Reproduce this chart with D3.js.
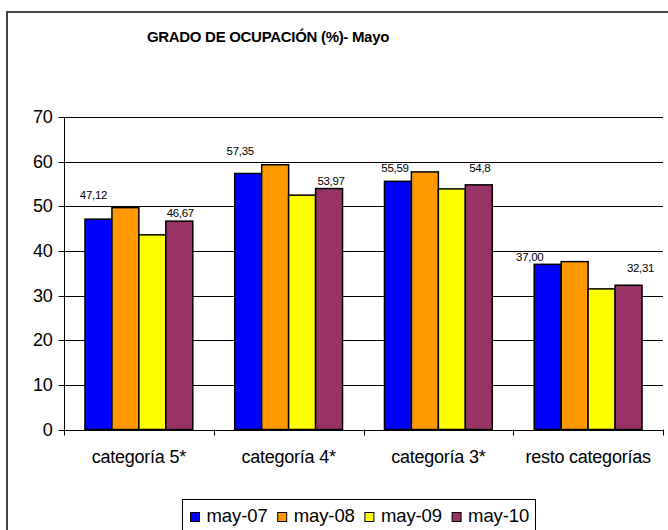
<!DOCTYPE html>
<html><head><meta charset="utf-8">
<script src="https://cdn.jsdelivr.net/npm/d3@7/dist/d3.min.js"></script>
<style>body{margin:0;background:#fff}svg{display:block;font-family:"Liberation Sans",Arial,sans-serif}</style>
</head><body><svg id="c" width="668" height="530"></svg>
<script>
const categories = ["categoría 5*", "categoría 4*", "categoría 3*", "resto categorías"];
const seriesNames = ["may-07", "may-08", "may-09", "may-10"];
const may07 = [47.12, 57.35, 55.59, 37.00];
const may08 = [49.7, 59.3, 57.7, 37.6];
const may09 = [43.6, 52.5, 53.9, 31.5];
const may10 = [46.67, 53.97, 54.8, 32.31];
const may07Labels = ["47,12", "57,35", "55,59", "37,00"];
const may10Labels = ["46,67", "53,97", "54,8", "32,31"];
const yTicks = [0, 10, 20, 30, 40, 50, 60, 70];
const colors = ["#0000FF", "#FF9900", "#FFFF00", "#993366"];
const title = "GRADO DE OCUPACIÓN (%)- Mayo";

const series = [may07, may08, may09, may10];
const svg = d3.select("#c");

// outer frame
svg.append("rect").attr("x", 7).attr("y", 12).attr("width", 720).attr("height", 600)
  .attr("fill", "#fff").attr("stroke", "#444").attr("stroke-width", 2);

svg.append("text").attr("x", 268).attr("y", 42).attr("text-anchor", "middle")
  .attr("font-weight", "bold").attr("font-size", 15).attr("letter-spacing", -0.3).text(title);

const pLeft = 64, pRight = 663, pTop = 117, pBottom = 429.5;
const y = d3.scaleLinear().domain([0, 70]).range([pBottom, pTop]);
const x0 = d3.scaleBand().domain(categories).range([pLeft, pRight]).paddingInner(0.28).paddingOuter(0.14);
const x1 = d3.scaleBand().domain(seriesNames).range([0, x0.bandwidth()]);

// gridlines
svg.append("g").selectAll("line").data(yTicks.filter(d => d > 0)).join("line")
  .attr("x1", pLeft).attr("x2", pRight).attr("y1", d => Math.round(y(d)) + 0.5).attr("y2", d => Math.round(y(d)) + 0.5)
  .attr("stroke", "#000").attr("stroke-width", 1);

// y axis
const yAxis = svg.append("g").attr("transform", `translate(${pLeft + 0.5},0)`)
  .call(d3.axisLeft(y).tickValues(yTicks).tickSize(6).tickPadding(6).tickFormat(d3.format("d")));
yAxis.selectAll("text").attr("font-size", 18).attr("letter-spacing", -0.3).attr("fill", "#000")
  .attr("font-family", "Liberation Sans, Arial, sans-serif");
yAxis.selectAll("line").attr("stroke", "#000");
yAxis.select(".domain").attr("stroke", "#000").attr("d", `M0,${y(70)}V${y(0)}`);
yAxis.selectAll(".tick").attr("transform", d => `translate(0,${Math.round(y(d)) + 0.5})`);

// bars
const g = svg.append("g");
categories.forEach((c, i) => {
  series.forEach((s, j) => {
    g.append("rect")
      .attr("x", x0(c) + x1(seriesNames[j]))
      .attr("y", y(s[i]))
      .attr("width", x1.bandwidth())
      .attr("height", y(0) - y(s[i]))
      .attr("fill", colors[j]).attr("stroke", "#000").attr("stroke-width", 1.5);
  });
});

// x axis
svg.append("line").attr("x1", pLeft).attr("x2", pRight).attr("y1", Math.round(y(0)) + 0.5).attr("y2", Math.round(y(0)) + 0.5)
  .attr("stroke", "#000");
const boundaryX = categories.map((c, i) => pLeft + i * x0.step()).concat([pRight]);
svg.append("g").selectAll("line").data(boundaryX).join("line")
  .attr("x1", d => Math.round(d) + 0.5).attr("x2", d => Math.round(d) + 0.5)
  .attr("y1", y(0)).attr("y2", y(0) + 6).attr("stroke", "#000");
svg.append("g").selectAll("text").data(categories).join("text")
  .attr("x", d => x0(d) + x0.bandwidth() / 2).attr("y", 463)
  .attr("text-anchor", "middle").attr("font-size", 18).attr("letter-spacing", -0.25).text(d => d);

// data labels (only first and last series), with per-label nudges (style)
const nudge07 = [[-5, -20], [-8, -18], [-3, -9], [-18, -3]];
const nudge10 = [[1, -4], [2, -4], [1, -13], [12, -13]];
categories.forEach((c, i) => {
  const xb = x0(c) + x1(seriesNames[0]) + x1.bandwidth() / 2;
  svg.append("text").attr("x", xb + nudge07[i][0]).attr("y", y(may07[i]) + nudge07[i][1])
    .attr("text-anchor", "middle").attr("font-size", 11.5).attr("letter-spacing", -0.3).text(may07Labels[i]);
  const xp = x0(c) + x1(seriesNames[3]) + x1.bandwidth() / 2;
  svg.append("text").attr("x", xp + nudge10[i][0]).attr("y", y(may10[i]) + nudge10[i][1])
    .attr("text-anchor", "middle").attr("font-size", 11.5).attr("letter-spacing", -0.3).text(may10Labels[i]);
});

// legend
const lg = svg.append("g");
lg.append("rect").attr("x", 182.5).attr("y", 499.5).attr("width", 353).attr("height", 40)
  .attr("fill", "#fff").attr("stroke", "#000").attr("stroke-width", 1);
seriesNames.forEach((n, j) => {
  const lx = 190 + j * 87.2;
  lg.append("rect").attr("x", lx + 0.5).attr("y", 512.5).attr("width", 9).attr("height", 9)
    .attr("fill", colors[j]).attr("stroke", "#000").attr("stroke-width", 1);
  lg.append("text").attr("x", lx + 16.5).attr("y", 522).attr("font-size", 18.5).attr("letter-spacing", -0.1).text(n);
});
</script></body></html>
